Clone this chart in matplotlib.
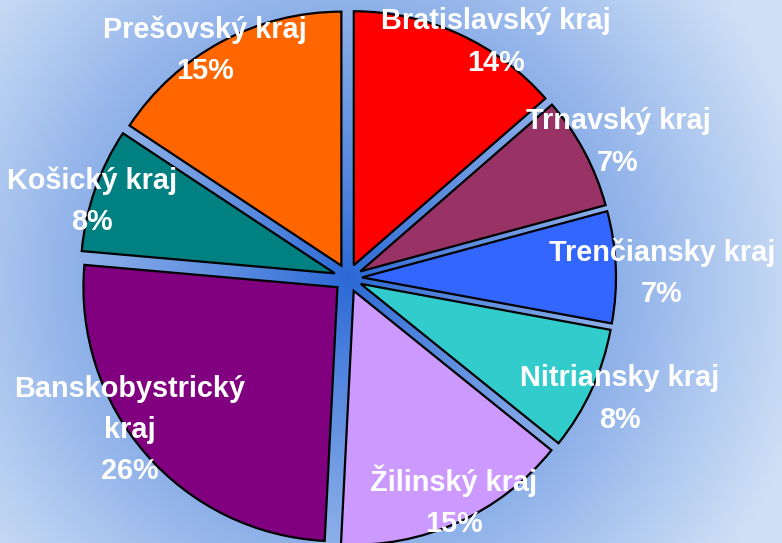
import numpy as np
import matplotlib
matplotlib.use('Agg')
from matplotlib import pyplot as plt
from matplotlib.colors import to_rgb

regions = ['Bratislavský kraj', 'Trnavský kraj', 'Trenčiansky kraj', 'Nitriansky kraj',
           'Žilinský kraj', 'Banskobystrický\nkraj', 'Košický kraj', 'Prešovský kraj']
# percentages printed on the chart
percent_labels = [14, 7, 7, 8, 15, 26, 8, 15]
# slice sizes as drawn
shares = [13.6, 7.2, 7.1, 7.9, 15.0, 25.6, 7.9, 15.7]
colors = ['#ff0000', '#993366', '#3366ff', '#33cccc',
          '#cc99ff', '#800080', '#008080', '#ff6600']

# label centres in pixel coordinates (layout only)
label_pos = [(496, 42), (618, 142), (662, 273), (620, 399),
             (454, 501), (130, 430), (92, 201), (205, 50)]

W, H = 782, 543
cx, cy = 348, H - 278
R = 254
gap = 14  # explode offset in pixels

fig = plt.figure(figsize=(W / 100, H / 100), dpi=100)
ax = fig.add_axes([0, 0, 1, 1])

# background: light blue with a darker blue glow behind the pie
yy, xx = np.mgrid[0:H, 0:W]
d = np.sqrt((xx - cx) ** 2 + ((H - yy) - cy) ** 2)
t = np.clip(d / 470, 0, 1) ** 0.9
c0 = np.array(to_rgb('#2a68d6'))
c1 = np.array(to_rgb('#cfe0f6'))
img = c0[None, None, :] * (1 - t[..., None]) + c1[None, None, :] * t[..., None]
ax.imshow(img, extent=[0, W, 0, H], origin='upper', zorder=0)

wedges, _ = ax.pie(shares, colors=colors, startangle=90, counterclock=False,
                   explode=[gap] * len(shares), center=(cx, cy), radius=R,
                   wedgeprops=dict(edgecolor='black', linewidth=1.6),
                   frame=True)
ax.set_xlim(0, W)
ax.set_ylim(0, H)
ax.set_aspect('auto')
ax.axis('off')

for name, pct, (px, py) in zip(regions, percent_labels, label_pos):
    ax.text(px, H - py, '%s\n%d%%' % (name, pct), ha='center', va='center',
            color='white', fontsize=20.8, fontweight='bold',
            family=['Liberation Sans', 'DejaVu Sans'], linespacing=1.6,
            zorder=5)

plt.savefig('out.png', dpi=100)
